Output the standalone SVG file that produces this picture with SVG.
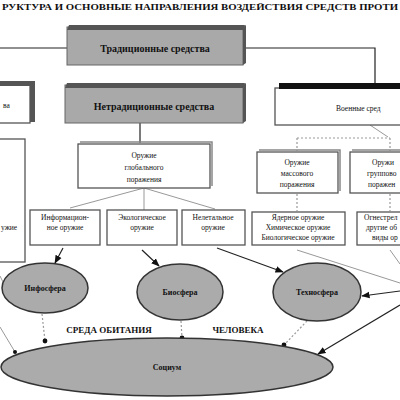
<svg xmlns="http://www.w3.org/2000/svg" width="400" height="400" viewBox="0 0 400 400">
<defs>
<style>
text{font-family:"Liberation Serif","DejaVu Serif",serif;fill:#111}
.t{font-size:10px;font-weight:bold;text-anchor:middle}
.s{font-size:7.5px;text-anchor:middle}
.l{font-size:7.5px;text-anchor:start}
.e{font-size:8px;font-weight:bold;text-anchor:middle}
.gbox{fill:#a9a9a9;stroke:#666;stroke-width:1}
.wbox{fill:#fff;stroke:#555;stroke-width:1.3}
.sh{fill:#555}
.ell{fill:#ababab;stroke:#333;stroke-width:1.5}
.c{fill:none;stroke:#222;stroke-width:1.2}
.g{fill:none;stroke:#999;stroke-width:1}
.d{fill:none;stroke:#999;stroke-width:1.2;stroke-dasharray:2 2}
</style>
<marker id="ar" viewBox="0 0 10 10" refX="9" refY="5" markerWidth="7" markerHeight="7" orient="auto"><path d="M0,1 L10,5 L0,9 Z" fill="#111"/></marker>
<marker id="dot" viewBox="0 0 10 10" refX="5" refY="5" markerWidth="5" markerHeight="5"><circle cx="5" cy="5" r="4" fill="#111"/></marker>
</defs>
<rect width="400" height="400" fill="#fff"/>
<text x="200" y="10" font-size="9" font-weight="bold" text-anchor="middle" textLength="396" lengthAdjust="spacingAndGlyphs">РУКТУРА И ОСНОВНЫЕ НАПРАВЛЕНИЯ ВОЗДЕЙСТВИЯ СРЕДСТВ ПРОТИ</text>

<g id="connectors">
<path class="c" d="M0,48 H67"/>
<path class="c" d="M243,48 H375 V84"/>
<path class="c" d="M140,123 V143"/>
<path class="g" d="M144,188 L70,208 M144,188 V210 M144,188 L215,209"/>
<path class="g" d="M370,125 L388,137"/>
<path class="d" d="M297,138 H390 M297,138 V151 M390,138 V151"/>
<path class="d" d="M297,194 V211 M390,194 V211"/>
<path class="c" d="M63,248 L55,263" marker-end="url(#ar)"/>
<path class="c" d="M142,250 L159,266" marker-end="url(#ar)"/>
<path class="c" d="M217,248 L283,272" marker-end="url(#ar)"/>
<path class="g" d="M297,250 L400,283"/>
<path class="g" d="M390,250 L400,264"/>
<path class="c" d="M400,291 L362,296" marker-end="url(#ar)"/>
<path class="c" d="M400,305 L318,354" marker-end="url(#ar)"/>
<path class="d" d="M42,314 L45,341" marker-end="url(#dot)"/>
<path class="g" d="M0,327 L15,352" marker-end="url(#dot)"/>
<path class="d" d="M181,321 L182,338" marker-end="url(#dot)"/>
<path class="d" d="M307,321 L284,345" marker-end="url(#dot)"/>
<path class="g" d="M0,276 L3,282"/>
</g>

<g id="trad">
<rect class="gbox" x="67" y="27" width="176" height="38"/>
<polygon class="sh" points="69,25 245,25 243,30 67,30"/>
<polygon class="sh" points="243,27 246,25 246,63 243,65"/>
<text class="t" x="155" y="52">Традиционные средства</text>
</g>

<g id="left-top">
<rect class="wbox" x="-2" y="84" width="32" height="39"/>
<polygon class="sh" points="-2,81 35,81 35,122 30,122 30,86 -2,86"/>
<text class="l" x="3" y="108">ва</text>
</g>

<g id="left-tall">
<rect class="wbox" x="-2" y="139" width="27" height="123"/>
<text class="l" x="1" y="230">ужие</text>
</g>

<g id="netrad">
<rect class="gbox" x="65" y="85" width="178" height="38"/>
<polygon class="sh" points="67,83 245,83 243,88 65,88"/>
<polygon class="sh" points="243,85 246,83 246,121 243,123"/>
<text class="t" x="154" y="110" font-size="11">Нетрадиционные средства</text>
</g>

<g id="voen">
<rect class="wbox" x="275" y="88" width="130" height="37"/>
<rect x="279" y="83" width="125" height="6" fill="#111"/>
<text class="l" x="336" y="111" font-size="9.5">Военные сред</text>
</g>

<g id="global">
<rect class="wbox" x="78" y="144" width="132" height="44"/>
<path d="M80,142 H212 V186" fill="none" stroke="#888" stroke-width="1.5"/>
<text class="s" x="144" y="158">Оружие</text>
<text class="s" x="144" y="170">глобального</text>
<text class="s" x="144" y="182">поражения</text>
</g>

<g id="massovoe">
<rect class="wbox" x="257" y="152" width="81" height="41"/>
<path d="M259,150 H340 V191" fill="none" stroke="#888" stroke-width="1.5"/>
<text class="s" x="297" y="165">Оружие</text>
<text class="s" x="297" y="176">массового</text>
<text class="s" x="297" y="187">поражения</text>
</g>

<g id="gruppovoe">
<rect class="wbox" x="350" y="152" width="60" height="41"/>
<path d="M352,150 H410" fill="none" stroke="#888" stroke-width="1.5"/>
<text class="l" x="372" y="165">Оружи</text>
<text class="l" x="367" y="176">группово</text>
<text class="l" x="368" y="187">поражен</text>
</g>

<g id="inform">
<rect class="wbox" x="30" y="210" width="70" height="35"/>
<text class="s" x="65" y="220" font-size="7">Информацион-</text>
<text class="s" x="65" y="230" font-size="7">ное оружие</text>
</g>

<g id="eco">
<rect class="wbox" x="107" y="210" width="70" height="35"/>
<text class="s" x="142" y="220" font-size="7">Экологическое</text>
<text class="s" x="142" y="230" font-size="7">оружие</text>
</g>

<g id="nelet">
<rect class="wbox" x="182" y="210" width="63" height="35"/>
<text class="s" x="213" y="220" font-size="7">Нелетальное</text>
<text class="s" x="213" y="230" font-size="7">оружие</text>
</g>

<g id="yadernoe">
<rect class="wbox" x="252" y="212" width="93" height="33"/>
<text class="s" x="298" y="220" font-size="7">Ядерное оружие</text>
<text class="s" x="298" y="230" font-size="7">Химическое оружие</text>
<text class="s" x="298" y="240" font-size="7">Биологическое оружие</text>
</g>

<g id="ognestr">
<rect class="wbox" x="357" y="212" width="60" height="33"/>
<text class="l" x="364" y="220" font-size="7">Огнестрел</text>
<text class="l" x="366" y="230" font-size="7">другие об</text>
<text class="l" x="372" y="240" font-size="7">виды ор</text>
</g>

<g id="infosfera">
<ellipse class="ell" cx="45" cy="288" rx="43" ry="25"/>
<text class="e" x="45" y="291">Инфосфера</text>
</g>

<g id="biosfera">
<ellipse class="ell" cx="180" cy="292" rx="43" ry="28"/>
<text class="e" x="180" y="295">Биосфера</text>
</g>

<g id="tehnosfera">
<ellipse class="ell" cx="317" cy="292" rx="44" ry="29"/>
<text class="e" x="317" y="295">Техносфера</text>
</g>

<text x="109" y="333" font-size="9" font-weight="bold" text-anchor="middle">СРЕДА  ОБИТАНИЯ</text>
<text x="238" y="333" font-size="9" font-weight="bold" text-anchor="middle">ЧЕЛОВЕКА</text>

<g id="socium">
<ellipse class="ell" cx="167" cy="367" rx="166" ry="29"/>
<text class="e" x="167" y="370" font-size="9">Социум</text>
</g>
</svg>
